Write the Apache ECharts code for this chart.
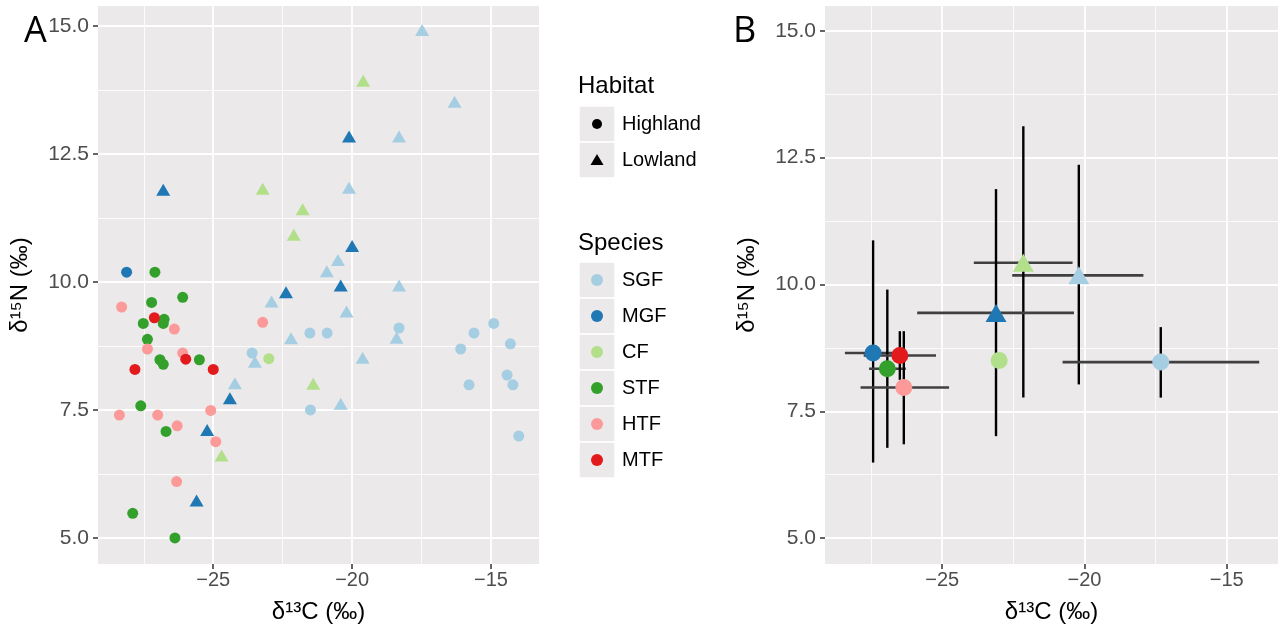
<!DOCTYPE html>
<html><head><meta charset="utf-8">
<script src="https://cdn.jsdelivr.net/npm/echarts@6/dist/echarts.min.js"></script>
<style>html,body{margin:0;padding:0;background:#fff}#c{width:1285px;height:634px}</style>
</head><body><div id="c"></div>
<script>
// ---------- categories ----------
const speciesNames = ['SGF','MGF','CF','STF','HTF','MTF'];
const speciesColors = ['#A6CEE3','#1F78B4','#B2DF8A','#33A02C','#FB9A99','#E31A1C'];
const habitatNames = ['Highland','Lowland'];
const habitatSymbols = ['circle','triangle'];

// ---------- Panel A: individual samples [δ13C, δ15N] ----------
const sgfHighland = [[-21.52,9.0],[-20.9,9.0],[-18.31,9.1],[-14.9,9.19],[-15.61,9.0],[-16.09,8.69],[-14.3,8.79],[-14.42,8.18],[-14.21,7.99],[-15.79,7.99],[-14.0,6.99],[-23.6,8.61],[-21.5,7.5]];
const sgfLowland = [[-17.48,14.92],[-16.31,13.52],[-18.31,12.84],[-20.11,11.84],[-20.51,10.43],[-20.91,10.21],[-18.31,9.93],[-22.9,9.62],[-20.2,9.42],[-22.2,8.9],[-18.4,8.91],[-23.5,8.44],[-19.62,8.52],[-24.22,8.02],[-20.41,7.62]];
const mgfHighland = [[-28.12,10.19]];
const mgfLowland = [[-20.11,12.84],[-20.0,10.7],[-20.41,9.93],[-26.8,11.8],[-22.38,9.8],[-24.4,7.73],[-25.22,7.11],[-25.6,5.73]];
const cfHighland = [[-23.0,8.5]];
const cfLowland = [[-19.6,13.93],[-23.22,11.82],[-21.78,11.42],[-22.1,10.92],[-21.4,8.01],[-24.7,6.61]];
const stfHighland = [[-27.1,10.19],[-26.1,9.7],[-27.22,9.6],[-27.52,9.19],[-26.77,9.27],[-26.8,9.19],[-27.37,8.88],[-26.92,8.48],[-26.8,8.39],[-25.5,8.48],[-27.61,7.58],[-26.7,7.08],[-27.9,5.48],[-26.38,5.0]];
const htfHighland = [[-28.3,9.51],[-26.4,9.08],[-27.37,8.69],[-26.1,8.61],[-23.22,9.21],[-28.38,7.4],[-27.0,7.4],[-26.3,7.19],[-25.09,7.49],[-24.91,6.88],[-26.32,6.1]];
const mtfHighland = [[-27.12,9.3],[-25.99,8.49],[-27.82,8.29],[-25.0,8.29]];

const samplesBySpecies = {
  SGF: {Highland: sgfHighland, Lowland: sgfLowland},
  MGF: {Highland: mgfHighland, Lowland: mgfLowland},
  CF:  {Highland: cfHighland,  Lowland: cfLowland},
  STF: {Highland: stfHighland, Lowland: []},
  HTF: {Highland: htfHighland, Lowland: []},
  MTF: {Highland: mtfHighland, Lowland: []}
};

// ---------- Panel B: group means with ranges ----------
const summarySpecies = ['SGF','CF','MGF','CF','SGF','MGF','STF','MTF','HTF'];
const summaryHabitat = ['Lowland','Lowland','Lowland','Highland','Highland','Highland','Highland','Highland','Highland'];
const summaryMeanC = [-20.2,-22.15,-23.11,-23.0,-17.32,-27.43,-26.93,-26.49,-26.35];
const summaryMeanN = [10.18,10.43,9.44,8.50,8.47,8.65,8.34,8.60,7.97];
const summaryLowC  = [-22.54,-23.89,-25.88,null,-20.77,-28.42,-27.57,-27.76,-27.87];
const summaryHighC = [-17.93,-20.42,-20.37,null,-13.86,-26.43,-26.28,-25.22,-24.76];
const summaryLowN  = [8.03,7.77,7.01,null,7.77,6.49,6.78,8.12,6.85];
const summaryHighN = [12.36,13.12,11.88,null,9.16,10.87,9.90,9.08,9.08];

// ---------- ticks ----------
const xTicks = [-25,-20,-15];
const xMinorTicks = [-27.5,-22.5,-17.5];
const yTicks = [5,7.5,10,12.5,15];
const yMinorTicks = [6.25,8.75,11.25,13.75];
const xTitle = 'δ¹³C (‰)';
const yTitle = 'δ¹⁵N (‰)';

// ---------- styling ----------
const FONT = '"Liberation Sans", Arial, sans-serif';
const PANEL_BG = '#EBE9EA';
const minusFmt = v => String(v).replace('-', '\u2212');

function majorX(grid, min, max) {
  return {type:'value', gridIndex:grid, min, max,
    axisLine:{show:false},
    axisTick:{show:true, customValues:xTicks, length:5, lineStyle:{color:'#333', width:1.5}},
    axisLabel:{customValues:xTicks, formatter:minusFmt, color:'#4D4D4D', fontSize:20, margin:6, fontFamily:FONT},
    splitLine:{show:true, lineStyle:{color:'#fff', width:1.8}},
    name:xTitle, nameLocation:'middle', nameGap:36,
    nameTextStyle:{color:'#000', fontSize:24, fontFamily:FONT}};
}
function minorX(grid, min, max) {
  return {type:'value', gridIndex:grid, min, max,
    axisLine:{show:false}, axisTick:{show:false, customValues:xMinorTicks},
    axisLabel:{show:false, customValues:xMinorTicks},
    splitLine:{show:true, lineStyle:{color:'#fff', width:0.8}}};
}
function majorY(grid, min, max) {
  return {type:'value', gridIndex:grid, min, max,
    axisLine:{show:false},
    axisTick:{show:true, customValues:yTicks, length:5, lineStyle:{color:'#333', width:1.5}},
    axisLabel:{customValues:yTicks, formatter:v => v.toFixed(1), color:'#4D4D4D', fontSize:21, margin:9, fontFamily:FONT},
    splitLine:{show:true, lineStyle:{color:'#fff', width:1.8}},
    name:yTitle, nameLocation:'middle', nameGap:66,
    nameTextStyle:{color:'#000', fontSize:24, fontFamily:FONT}};
}
function minorY(grid, min, max) {
  return {type:'value', gridIndex:grid, min, max,
    axisLine:{show:false}, axisTick:{show:false, customValues:yMinorTicks},
    axisLabel:{show:false, customValues:yMinorTicks},
    splitLine:{show:true, lineStyle:{color:'#fff', width:0.8}}};
}

const series = [];
// Panel A scatter
speciesNames.forEach((sp, si) => {
  habitatNames.forEach((hab, hi) => {
    const pts = samplesBySpecies[sp][hab];
    if (!pts.length) return;
    series.push({type:'scatter', name:sp + ' ' + hab, xAxisIndex:0, yAxisIndex:0,
      symbol:habitatSymbols[hi], symbolSize: hi === 0 ? 11 : [14,12],
      itemStyle:{color:speciesColors[si], opacity:1},
      data:pts, z:3});
  });
});

// Panel B error bars
const barData = summaryMeanC.map((c, i) => [c, summaryMeanN[i], summaryLowC[i], summaryHighC[i], summaryLowN[i], summaryHighN[i]]);
series.push({type:'custom', xAxisIndex:2, yAxisIndex:2, z:2,
  renderItem(params, api) {
    const lc = api.value(2), hc = api.value(3), ln = api.value(4), hn = api.value(5);
    const c = api.value(0), n = api.value(1);
    const children = [];
    if (lc != null && !isNaN(lc)) {
      const a = api.coord([lc, n]), b = api.coord([hc, n]);
      children.push({type:'line', shape:{x1:a[0], y1:a[1], x2:b[0], y2:b[1]}, style:{stroke:'#404040', lineWidth:2.6}});
    }
    if (ln != null && !isNaN(ln)) {
      const a = api.coord([c, ln]), b = api.coord([c, hn]);
      children.push({type:'line', shape:{x1:a[0], y1:a[1], x2:b[0], y2:b[1]}, style:{stroke:'#000', lineWidth:2.4}});
    }
    return {type:'group', children};
  },
  encode:{x:0, y:1}, data:barData});

// Panel B points
series.push({type:'scatter', xAxisIndex:2, yAxisIndex:2, z:4,
  data: summaryMeanC.map((c, i) => {
    const si = speciesNames.indexOf(summarySpecies[i]);
    const hi = habitatNames.indexOf(summaryHabitat[i]);
    return {value:[c, summaryMeanN[i]], symbol:habitatSymbols[hi],
      symbolSize: hi === 0 ? 17 : [21,18], itemStyle:{color:speciesColors[si], opacity:1}};
  })});

// Legend and panel tags via graphic
const graphic = [];
graphic.push({type:'text', x:24, y:14, style:{text:'A', fontSize:36, fill:'#000', fontFamily:'"Open Sans", sans-serif'}});
graphic.push({type:'text', x:733, y:14, style:{text:'B', fontSize:36, fill:'#000', fontFamily:'"Open Sans", sans-serif'}});
const LX = 579, KEY = 36;
graphic.push({type:'text', x:LX - 1, y:86, style:{text:'Habitat', fontSize:24, fill:'#000', fontFamily:FONT, verticalAlign:'middle'}});
habitatNames.forEach((h, i) => {
  const y0 = 106 + i * KEY;
  graphic.push({type:'rect', shape:{x:LX, y:y0, width:KEY, height:KEY}, style:{fill:PANEL_BG, stroke:'#fff', lineWidth:1.5}});
  const cx = LX + KEY / 2, cy = y0 + KEY / 2;
  if (habitatSymbols[i] === 'circle') {
    graphic.push({type:'circle', shape:{cx, cy, r:5}, style:{fill:'#000'}});
  } else {
    graphic.push({type:'polygon', shape:{points:[[cx, cy - 6], [cx + 6.5, cy + 5], [cx - 6.5, cy + 5]]}, style:{fill:'#000'}});
  }
  graphic.push({type:'text', x:LX + 43, y:cy, style:{text:h, fontSize:20, fill:'#000', fontFamily:FONT, verticalAlign:'middle'}});
});
graphic.push({type:'text', x:LX - 1, y:243, style:{text:'Species', fontSize:24, fill:'#000', fontFamily:FONT, verticalAlign:'middle'}});
speciesNames.forEach((s, i) => {
  const y0 = 262 + i * KEY;
  graphic.push({type:'rect', shape:{x:LX, y:y0, width:KEY, height:KEY}, style:{fill:PANEL_BG, stroke:'#fff', lineWidth:1.5}});
  const cx = LX + KEY / 2, cy = y0 + KEY / 2;
  graphic.push({type:'circle', shape:{cx, cy, r:6}, style:{fill:speciesColors[i]}});
  graphic.push({type:'text', x:LX + 43, y:cy, style:{text:s, fontSize:20, fill:'#000', fontFamily:FONT, verticalAlign:'middle'}});
});

const option = {
  animation:false,
  backgroundColor:'#fff',
  grid:[
    {left:98, top:6, width:441, height:558, show:true, backgroundColor:PANEL_BG, borderWidth:0},
    {left:825, top:6, width:453, height:558, show:true, backgroundColor:PANEL_BG, borderWidth:0}
  ],
  xAxis:[majorX(0, -29.15, -13.27), minorX(0, -29.15, -13.27), majorX(1, -29.12, -13.2), minorX(1, -29.12, -13.2)],
  yAxis:[majorY(0, 4.49, 15.39), minorY(0, 4.49, 15.39), majorY(1, 4.49, 15.49), minorY(1, 4.49, 15.49)],
  series,
  graphic
};
const chart = echarts.init(document.getElementById('c'), null, {renderer:'canvas'});
chart.setOption(option);
</script></body></html>
